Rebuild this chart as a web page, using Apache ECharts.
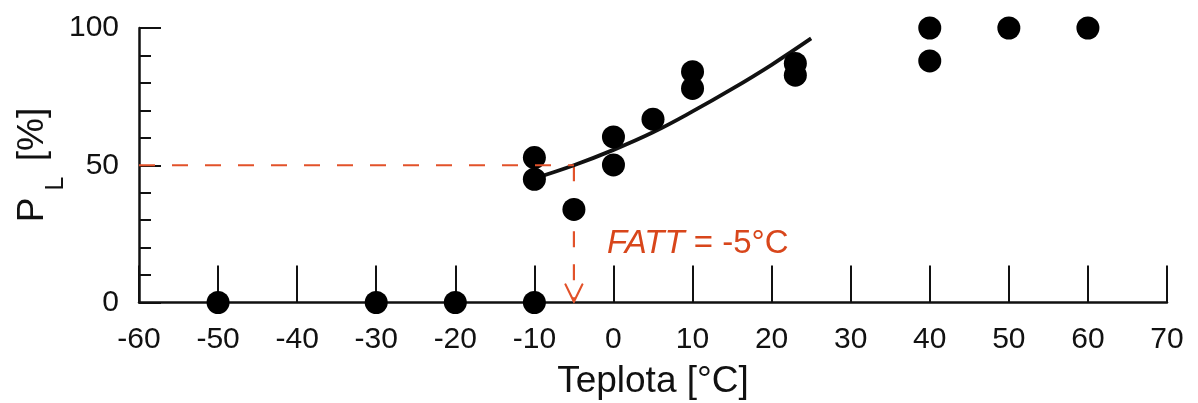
<!DOCTYPE html>
<html>
<head>
<meta charset="utf-8">
<script src="https://cdn.jsdelivr.net/npm/echarts@6/dist/echarts.min.js"></script>
<style>
  html, body { margin: 0; padding: 0; background: #fff; }
  #chart { width: 1198px; height: 403px; }
</style>
</head>
<body>
<div id="chart"></div>
<script>
// Measured points: temperature [°C] and proportion P_L [%]
const tempC = [-50, -30, -20, -10, -10, -10, -5, 0, 0, 5, 10, 10, 23, 23, 40, 40, 50, 60];
const plPct = [0, 0, 0, 0, 52.8, 44.9, 33.9, 60.3, 50.1, 66.8, 84.1, 78.0, 87.1, 82.8, 100, 88.0, 100, 100];

// Fitted transition curve
const fitTemp = [-10, -5, 0, 5, 10, 15, 20, 25];
const fitPct = [45.2, 50, 55.6, 62.0, 69.6, 77.8, 86.6, 96.2];

// FATT construction: 50 % level and resulting temperature
const fattTemp = -5;
const fattLevel = 50;

// Axis ticks
const xTicks = { min: -60, max: 70, step: 10 };
const yTicks = { min: 0, max: 100, step: 50 };

const FONT = "'Liberation Sans', Arial, sans-serif";
const INK = '#111';
const RED = '#e2522a';

const chart = echarts.init(document.getElementById('chart'), null, { renderer: 'canvas' });

const points = tempC.map((t, i) => [t, plPct[i]]);
const fit = fitTemp.map((t, i) => [t, fitPct[i]]);
const levelLine = [[xTicks.min, fattLevel], [fattTemp, fattLevel]];
const dropLine = [[fattTemp, fattLevel], [fattTemp, 0.6]];
const arrowHead = [[fattTemp - 1.07, 6.6], [fattTemp, 0.3], [fattTemp + 1.07, 6.6]];

chart.setOption({
  animation: false,
  grid: {
    left: 139, right: 31, top: 28, bottom: 100.5,
    containLabel: false,
    outerBoundsMode: 'none'
  },
  xAxis: {
    type: 'value',
    min: xTicks.min, max: xTicks.max, interval: xTicks.step,
    name: 'Teplota [°C]',
    nameLocation: 'middle',
    nameGap: 61,
    nameTextStyle: { fontFamily: FONT, fontSize: 37, color: INK },
    axisLine: { show: true, onZero: false, lineStyle: { color: INK, width: 2.5 } },
    axisTick: { show: true, inside: true, length: 37, lineStyle: { color: INK, width: 2 } },
    axisLabel: { fontFamily: FONT, fontSize: 30, color: INK, margin: 22 },
    splitLine: { show: false }
  },
  yAxis: {
    type: 'value',
    min: yTicks.min, max: yTicks.max, interval: yTicks.step,
    axisLine: { show: true, onZero: false, lineStyle: { color: INK, width: 2.5 } },
    axisTick: { show: true, inside: true, length: 22, lineStyle: { color: INK, width: 2 } },
    minorTick: { show: true, splitNumber: 5, length: 12, lineStyle: { color: INK, width: 2 } },
    axisLabel: { fontFamily: FONT, fontSize: 30, color: INK, margin: 20 },
    splitLine: { show: false },
    minorSplitLine: { show: false }
  },
  series: [
    {
      name: 'fit',
      type: 'line',
      data: fit,
      smooth: 0.4,
      showSymbol: false,
      lineStyle: { color: INK, width: 3.8 },
      z: 3
    },
    {
      name: 'measured',
      type: 'scatter',
      data: points,
      symbol: 'circle',
      symbolSize: 23,
      itemStyle: { color: '#000', opacity: 1 },
      z: 4
    },
    {
      name: 'level50',
      type: 'line',
      data: levelLine,
      showSymbol: false,
      lineStyle: { color: RED, width: 2.2, type: [16, 17] },
      z: 5
    },
    {
      name: 'drop',
      type: 'line',
      data: dropLine,
      showSymbol: false,
      lineStyle: { color: RED, width: 2.2, type: [16, 17], dashOffset: 0 },
      z: 2
    },
    {
      name: 'arrow',
      type: 'line',
      data: arrowHead,
      showSymbol: false,
      lineStyle: { color: RED, width: 2.2, cap: 'round', join: 'miter' },
      z: 2
    }
  ],
  graphic: [
    {
      // vertical axis title with subscript
      type: 'text',
      x: 35,
      y: 165,
      rotation: Math.PI / 2,
      style: {
        text: '{p|P}{s|L}{p| [%]}',
        align: 'center',
        verticalAlign: 'middle',
        fontFamily: FONT,
        fontSize: 37,
        fill: INK,
        rich: {
          p: { fontFamily: FONT, fontSize: 37, fill: INK, lineHeight: 42, verticalAlign: 'top' },
          s: { fontFamily: FONT, fontSize: 25, fill: INK, lineHeight: 25, padding: [30, 5, 0, 7], verticalAlign: 'top' }
        }
      }
    },
    {
      type: 'text',
      left: 607,
      top: 227,
      style: {
        text: '{i|FATT} = -5°C',
        fontFamily: FONT,
        fontSize: 33,
        fill: '#d8461b',
        rich: {
          i: { fontFamily: FONT, fontSize: 33, fontStyle: 'italic', fill: '#d8461b' }
        }
      }
    }
  ]
});
</script>
</body>
</html>
